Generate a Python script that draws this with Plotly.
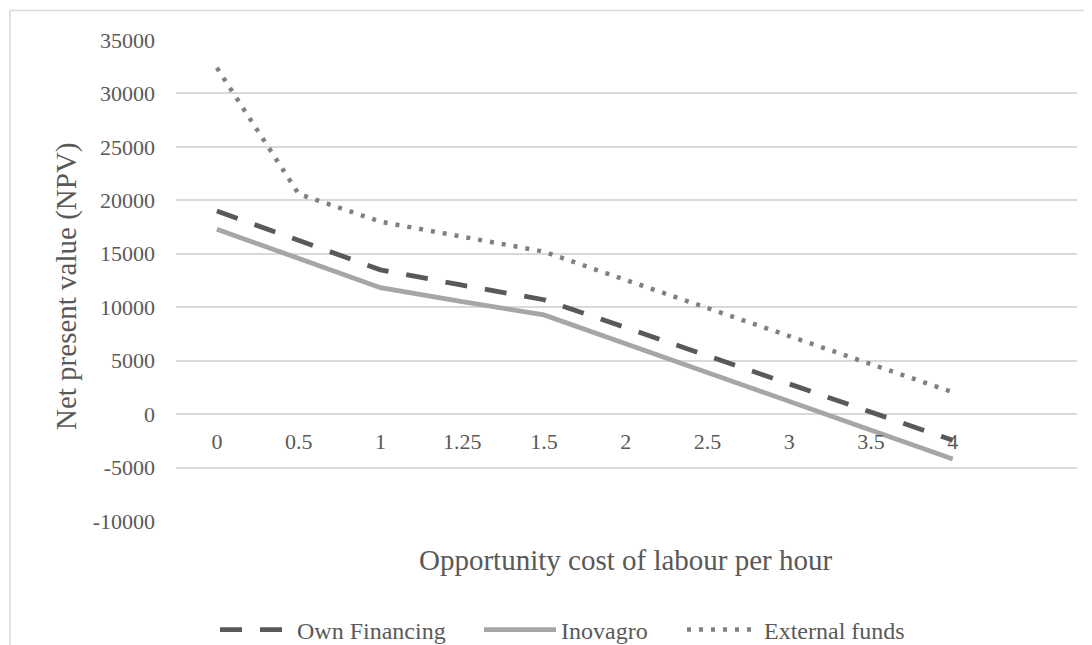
import plotly.graph_objects as go

categories = ["0", "0.5", "1", "1.25", "1.5", "2", "2.5", "3", "3.5", "4"]
own_financing = [19000, 16250, 13500, 12060, 10700, 8100, 5450, 2850, 200, -2450]
inovagro = [17300, 14580, 11830, 10520, 9280, 6580, 3880, 1180, -1520, -4200]
external_funds = [32400, 20600, 18000, 16650, 15200, 12550, 9900, 7300, 4700, 2050]

y_ticks = [-10000, -5000, 0, 5000, 10000, 15000, 20000, 25000, 30000, 35000]
y_ticktext = [str(v) for v in y_ticks]

FONT = "Liberation Serif"
TXT = "#595959"
GRID = "#d9d9d9"

# page body has an 8px margin; size the figure so it fits the 1092x645 window
OFF = 8
W, H = 1092 - OFF, 645 - OFF
# plot area in window pixels (from the reference)
PL, PR, PT, PB = 176, 1077, 40, 521
L, R, T, B = PL - OFF, W - (PR - OFF), PT - OFF, H - (PB - OFF)
pw = PR - PL
ph = PB - PT


def px_x(x):
    return (x - PL) / pw


def px_y(y):
    return (PB - y) / ph


fig = go.Figure()
fig.add_trace(go.Scatter(x=categories, y=own_financing, mode="lines", name="Own Financing",
                         legend="legend",
                         line=dict(color="#595959", width=4.8, dash="22px,18px")))
fig.add_trace(go.Scatter(x=categories, y=inovagro, mode="lines", name="Inovagro",
                         legend="legend2",
                         line=dict(color="#a6a6a6", width=4.8)))
fig.add_trace(go.Scatter(x=categories, y=external_funds, mode="lines", name="External funds",
                         legend="legend3",
                         line=dict(color="#808080", width=4.5, dash="4px,8px")))

ymin, ymax = y_ticks[0], y_ticks[-1]
zero_pos = (0 - ymin) / (ymax - ymin)


def leg(xpx):
    return dict(orientation="h", xref="container", yref="container",
                x=(xpx - OFF) / W, xanchor="left",
                y=1 - (630 - OFF) / H, yanchor="middle",
                itemwidth=72,
                font=dict(family=FONT, size=24, color=TXT),
                bgcolor="rgba(0,0,0,0)")


fig.update_layout(
    width=W, height=H,
    margin=dict(l=L, r=R, t=T, b=B, autoexpand=False),
    paper_bgcolor="white", plot_bgcolor="white",
    font=dict(family=FONT, color=TXT, size=22),
    showlegend=True,
    legend=leg(215),
    legend2=leg(479),
    legend3=leg(682),
    xaxis=dict(type="category", range=[-0.5, 10.52], showgrid=False, zeroline=False,
               showline=False, ticks="", anchor="free", position=zero_pos,
               tickfont=dict(family=FONT, size=22, color=TXT),
               ticklabelstandoff=12),
    yaxis=dict(range=[ymin, ymax], tickvals=y_ticks, ticktext=y_ticktext, showgrid=True,
               gridcolor=GRID, gridwidth=1.5, zeroline=False, showline=False, ticks="",
               tickfont=dict(family=FONT, size=22, color=TXT),
               ticklabelstandoff=20),
    annotations=[
        dict(text="Net present value (NPV)", xref="paper", yref="paper",
             x=px_x(66), y=px_y(286), xanchor="center", yanchor="middle",
             textangle=-90, showarrow=False, font=dict(family=FONT, size=29, color=TXT)),
        dict(text="Opportunity cost of labour per hour", xref="paper", yref="paper",
             x=px_x(626), y=px_y(560), xanchor="center", yanchor="middle",
             showarrow=False, font=dict(family=FONT, size=29, color=TXT)),
    ],
    shapes=[
        dict(type="rect", xref="paper", yref="paper", layer="below",
             x0=px_x(10), x1=px_x(1120), y0=px_y(10.5), y1=px_y(700),
             line=dict(color=GRID, width=1.5), fillcolor="rgba(0,0,0,0)"),
    ],
)

fig.write_html("out.html")
